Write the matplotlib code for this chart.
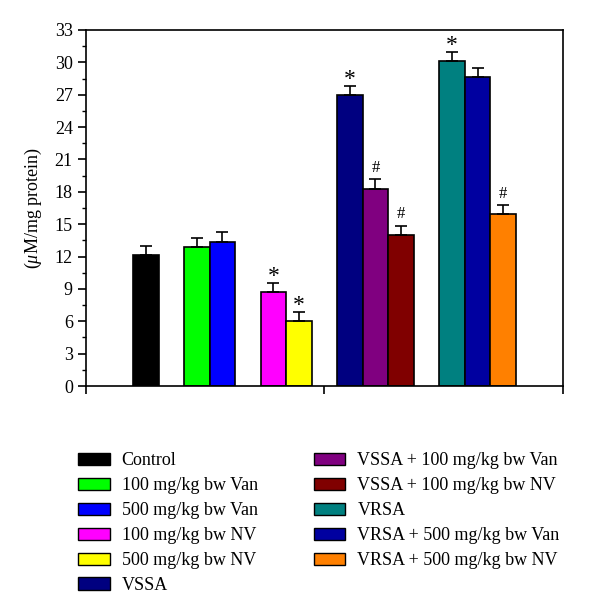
import matplotlib.pyplot as plt
from matplotlib.patches import Patch
from matplotlib.ticker import MultipleLocator

plt.rcParams['font.family'] = ['Liberation Serif', 'DejaVu Serif']
plt.rcParams['mathtext.fontset'] = 'custom'
plt.rcParams['mathtext.it'] = 'Liberation Serif:italic'
plt.rcParams['mathtext.rm'] = 'Liberation Serif'

# Data
groups = ["Control", "100 mg/kg bw Van", "500 mg/kg bw Van", "100 mg/kg bw NV",
          "500 mg/kg bw NV", "VSSA", "VSSA + 100 mg/kg bw Van", "VSSA + 100 mg/kg bw NV",
          "VRSA", "VRSA + 500 mg/kg bw Van", "VRSA + 500 mg/kg bw NV"]
values = [12.1, 12.9, 13.35, 8.7, 6.0, 27.0, 18.3, 14.0, 30.15, 28.65, 15.9]
errors = [0.85, 0.85, 0.9, 0.85, 0.85, 0.85, 0.85, 0.85, 0.85, 0.8, 0.85]
marks = ["", "", "", "*", "*", "*", "#", "#", "*", "", "#"]
colors = ["#000000", "#00ff00", "#0000ff", "#ff00ff", "#ffff00", "#000080",
          "#800080", "#800000", "#008080", "#0000a0", "#ff8000"]
# slot index of each bar (one empty slot between groups)
slots = [0, 2, 3, 5, 6, 8, 9, 10, 12, 13, 14]

fig = plt.figure(figsize=(6.0, 6.13), dpi=100)
ax = fig.add_axes([0.1433, 0.3703, 0.795, 0.5808])

ax.bar(slots, values, width=1.0, color=colors, edgecolor="black", linewidth=1.2,
       yerr=[[0] * len(errors), errors], capsize=4,
       error_kw=dict(ecolor="black", elinewidth=1.2, capthick=1.2), zorder=2)

for x, v, e, m in zip(slots, values, errors, marks):
    if m == "*":
        ax.text(x, v + e - 0.4, "*", ha="center", va="bottom", fontsize=17)
    elif m == "#":
        ax.text(x, v + e + 0.35, "#", ha="center", va="bottom", fontsize=12)

ax.set_xlim(7 - 9.35, 7 + 9.35)
ax.set_xticks([7 - 9.35, 7, 7 + 9.35])
ax.set_xticklabels([])
ax.set_ylim(0, 33)
ax.yaxis.set_major_locator(MultipleLocator(3))
ax.yaxis.set_minor_locator(MultipleLocator(1.5))
ax.tick_params(axis="y", which="major", direction="out", length=6, width=1.2, labelsize=13)
ax.tick_params(axis="y", which="minor", direction="out", length=3, width=1.0)
ax.tick_params(axis="x", direction="out", length=6, width=1.2)
for s in ax.spines.values():
    s.set_linewidth(1.2)

ax.set_ylabel(r"($\mu$M/mg protein)", fontsize=13, labelpad=8)

handles = [Patch(facecolor=c, edgecolor="black", linewidth=1.0) for c in colors]
fig.legend(handles, groups, loc="upper left", bbox_to_anchor=(0.13, 0.262), ncol=2,
           frameon=False, fontsize=13, handlelength=1.75, handleheight=0.7,
           handletextpad=0.67, labelspacing=0.44, columnspacing=3.1, borderpad=0,
           borderaxespad=0)

plt.savefig("out.png", dpi=100)
